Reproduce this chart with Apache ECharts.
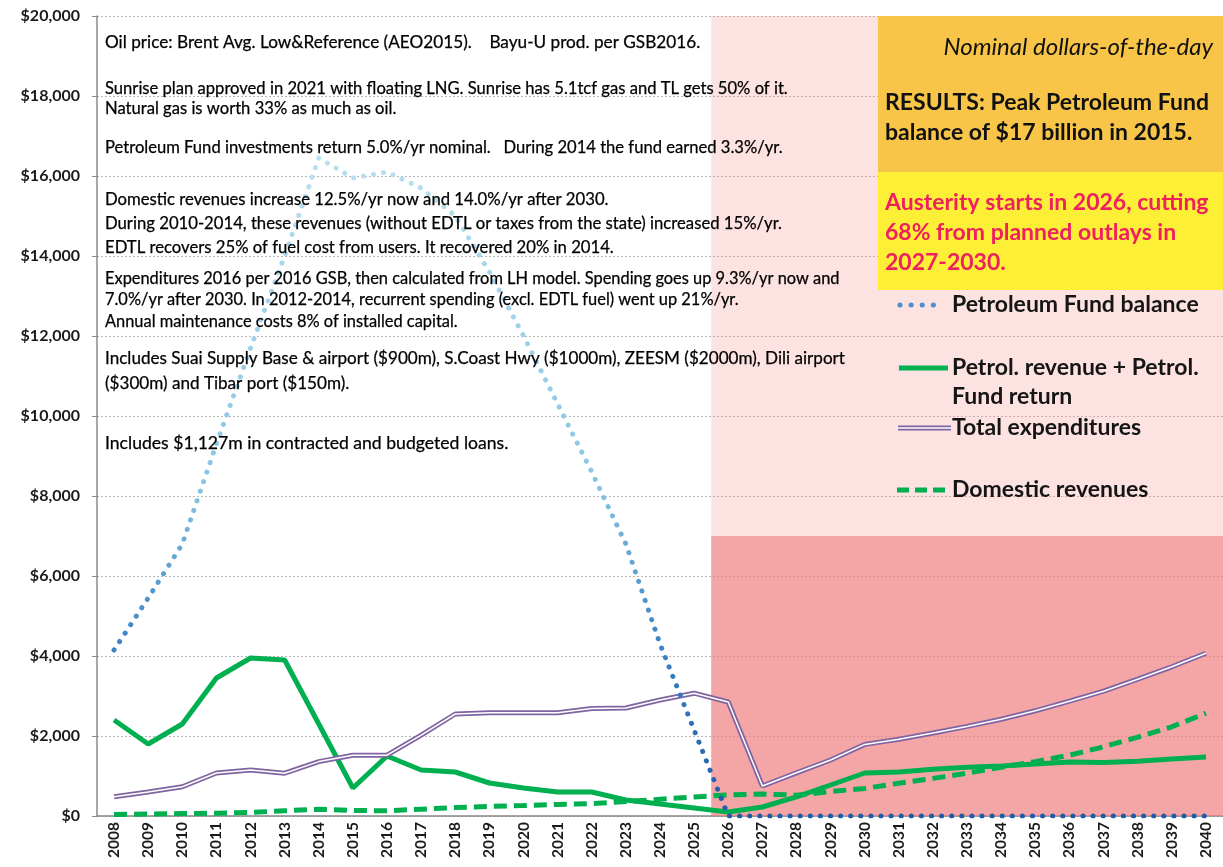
<!DOCTYPE html>
<html>
<head>
<meta charset="utf-8">
<script src="https://cdn.jsdelivr.net/npm/echarts@6/dist/echarts.min.js"></script>
<style>
html, body { margin: 0; padding: 0; background: #fff; }
#chart { width: 1223px; height: 867px; }
</style>
</head>
<body>
<div id="chart"></div>
<script>
var years = ['2008','2009','2010','2011','2012','2013','2014','2015','2016','2017','2018',
	'2019','2020','2021','2022','2023','2024','2025','2026','2027','2028','2029','2030',
	'2031','2032','2033','2034','2035','2036','2037','2038','2039','2040'];

// $ millions, nominal
var fundBalance = [4150, 5450, 6800, 9300, 11700, 14000, 16450, 15950, 16100, 15700, 15000,
	13600, 12000, 10300, 8600, 6800, 4300, 2150, 0, 0, 0, 0, 0, 0, 0, 0, 0, 0, 0, 0, 0, 0, 0];
var petrolRevenue = [2400, 1800, 2300, 3450, 3950, 3900, 2300, 700, 1500, 1150, 1100,
	825, 700, 600, 600, 400, 300, 200, 100, 225, 480, 775, 1075, 1100, 1170, 1220, 1250,
	1300, 1350, 1340, 1370, 1425, 1475];
var expenditures = [480, 600, 730, 1075, 1150, 1070, 1360, 1520, 1520, 2020, 2550,
	2580, 2580, 2580, 2690, 2700, 2900, 3070, 2850, 750, 1080, 1400, 1790, 1920, 2075, 2240,
	2420, 2630, 2870, 3120, 3420, 3730, 4070];
var domestic = [40, 50, 60, 70, 90, 130, 170, 140, 130, 170, 210,
	240, 260, 290, 310, 360, 420, 475, 525, 550, 520, 610, 690, 820, 940, 1070,
	1220, 1360, 1520, 1730, 1970, 2230, 2570];

// austerity period, shaded
var austerityStart = 2025.5, austerityEnd = 2040.5, austerityLevel = 7000;

var notes = [
	'Oil price: Brent Avg. Low&Reference (AEO2015).    Bayu-U prod. per GSB2016.',
	'Sunrise plan approved in 2021 with floating LNG. Sunrise has 5.1tcf gas and TL gets 50% of it.',
	'Natural gas is worth 33% as much as oil.',
	'Petroleum Fund investments return 5.0%/yr nominal.   During 2014 the fund earned 3.3%/yr.',
	'Domestic revenues increase 12.5%/yr now and 14.0%/yr after 2030.',
	'During 2010-2014, these revenues (without EDTL or taxes from the state) increased 15%/yr.',
	'EDTL recovers 25% of fuel cost from users. It recovered 20% in 2014.',
	'Expenditures 2016 per 2016 GSB, then calculated from LH model. Spending goes up 9.3%/yr now and',
	'7.0%/yr after 2030. In 2012-2014, recurrent spending (excl. EDTL fuel) went up 21%/yr.',
	'Annual maintenance costs 8% of installed capital.',
	'Includes Suai Supply Base & airport ($900m), S.Coast Hwy ($1000m), ZEESM ($2000m), Dili airport',
	'($300m) and Tibar port ($150m).',
	'Includes $1,127m in contracted and budgeted loans.'
];
var results = ['RESULTS: Peak Petroleum Fund', 'balance of $17 billion in 2015.'];
var austerity = ['Austerity starts in 2026, cutting', '68% from planned outlays in', '2027-2030.'];

var FONT = 'Lato, "Open Sans", sans-serif';
var chart = echarts.init(document.getElementById('chart'));

// y centre and font size of each note line
var noteLayout = [[42, 17.2], [89, 16.6], [109, 16.6], [148, 16.6], [200, 16.7], [224, 16.7],
	[248, 16.7], [279, 16.4], [300, 16.4], [322, 16.4], [358, 17.1], [383, 17.1], [443, 17.6]];

var graphics = [];
notes.forEach(function(t, i) {
	graphics.push({
		type: 'text', x: 105, y: noteLayout[i][0], z: 50,
		style: { text: t, fill: '#000', stroke: '#000', lineWidth: 0.25,
			font: noteLayout[i][1] + 'px ' + FONT, verticalAlign: 'middle' }
	});
});

// results box
graphics.push(
	{ type: 'rect', z: 40, shape: { x: 878, y: 16, width: 345, height: 156 }, style: { fill: '#f8c548' } },
	{ type: 'rect', z: 40, shape: { x: 878, y: 172, width: 345, height: 118 }, style: { fill: '#fdef36' } },
	{ type: 'text', z: 50, x: 1213, y: 47, style: { text: 'Nominal dollars-of-the-day', fill: '#111',
		font: 'italic 24px ' + FONT, align: 'right', verticalAlign: 'middle' } }
);
results.forEach(function(t, i) {
	graphics.push({ type: 'text', z: 50, x: 885, y: 103 + i * 30, style: { text: t, fill: '#111',
		font: 'bold 23px ' + FONT, verticalAlign: 'middle' } });
});
austerity.forEach(function(t, i) {
	graphics.push({ type: 'text', z: 50, x: 885, y: 203 + i * 30, style: { text: t, fill: '#ee2060',
		font: 'bold 23px ' + FONT, verticalAlign: 'middle' } });
});

// legend
var legendFont = 'bold 23px ' + FONT;
function legendText(t, y) {
	return { type: 'text', z: 50, x: 952, y: y, style: { text: t, fill: '#151515', font: legendFont, verticalAlign: 'middle' } };
}
graphics.push(
	{ type: 'line', z: 50, shape: { x1: 900, y1: 305, x2: 944, y2: 305 },
		style: { stroke: '#4a8fd0', lineWidth: 5, lineDash: [0.1, 11], lineCap: 'round' } },
	legendText('Petroleum Fund balance', 305),
	{ type: 'line', z: 50, shape: { x1: 899, y1: 368, x2: 948, y2: 368 }, style: { stroke: '#00b050', lineWidth: 5 } },
	legendText('Petrol. revenue + Petrol.', 368),
	legendText('Fund return', 397),
	{ type: 'line', z: 50, shape: { x1: 898, y1: 428, x2: 951, y2: 428 }, style: { stroke: '#8064a2', lineWidth: 5 } },
	{ type: 'line', z: 51, shape: { x1: 898, y1: 428, x2: 951, y2: 428 }, style: { stroke: '#ffffff', lineWidth: 1.5 } },
	legendText('Total expenditures', 428),
	{ type: 'line', z: 50, shape: { x1: 897, y1: 490, x2: 950, y2: 490 },
		style: { stroke: '#00b050', lineWidth: 5, lineDash: [12, 6] } },
	legendText('Domestic revenues', 490)
);

var fundColor = new echarts.graphic.LinearGradient(0, 0, 0, 1, [
	{ offset: 0, color: '#b9e0f0' },
	{ offset: 0.5, color: '#86c5e3' },
	{ offset: 0.72, color: '#3f86c8' },
	{ offset: 1, color: '#1f5aa8' }
]);

chart.setOption({
	backgroundColor: '#ffffff',
	animation: false,
	grid: { left: 97, right: -1, top: 16, bottom: 51 },
	xAxis: [{
		type: 'category',
		data: years,
		boundaryGap: true,
		axisLine: { lineStyle: { color: '#888', width: 1.5 } },
		axisTick: { length: 6, lineStyle: { color: '#888' } },
		axisLabel: { rotate: 90, interval: 0, margin: 6, color: '#1a1a1a',
			fontFamily: FONT, fontWeight: 'bold', fontSize: 15.5 }
	}, {
		type: 'value', show: false, min: 2007.5, max: 2040.5
	}],
	yAxis: {
		type: 'value',
		min: 0, max: 20000, interval: 2000,
		axisLine: { show: true, lineStyle: { color: '#888', width: 1.5 } },
		axisTick: { show: true, length: 5, lineStyle: { color: '#888' } },
		axisLabel: { margin: 17, color: '#1a1a1a', fontFamily: FONT, fontWeight: 'bold', fontSize: 16,
			formatter: function(v) { return '$' + String(v).replace(/\B(?=(\d{3})+(?!\d))/g, ','); } },
		splitLine: { lineStyle: { color: '#b5b5b5', type: [2, 2] } }
	},
	series: [{
		name: 'shade',
		type: 'line',
		xAxisIndex: 1,
		data: [],
		silent: true,
		z: 1,
		markArea: {
			silent: true,
			data: [
				[{ xAxis: austerityStart, yAxis: austerityLevel, itemStyle: { color: 'rgba(240,128,128,0.7)' } },
				 { xAxis: austerityEnd, yAxis: 0 }],
				[{ xAxis: austerityStart, yAxis: 20000, itemStyle: { color: 'rgba(248,160,160,0.3)' } },
				 { xAxis: austerityEnd, yAxis: austerityLevel }]
			]
		}
	}, {
		name: 'Domestic revenues',
		type: 'line',
		data: domestic,
		showSymbol: false,
		z: 3,
		lineStyle: { color: '#00b050', width: 5, type: [13, 7] }
	}, {
		name: 'Petrol. revenue + Petrol. Fund return',
		type: 'line',
		data: petrolRevenue,
		showSymbol: false,
		z: 4,
		lineStyle: { color: '#00b050', width: 5 }
	}, {
		name: 'Total expenditures',
		type: 'line',
		data: expenditures,
		showSymbol: false,
		z: 5,
		lineStyle: { color: '#8064a2', width: 5 }
	}, {
		name: 'Total expenditures inner',
		type: 'line',
		data: expenditures,
		showSymbol: false,
		z: 6,
		lineStyle: { color: '#ffffff', width: 1.5 }
	}, {
		name: 'Petroleum Fund balance',
		type: 'line',
		data: fundBalance,
		showSymbol: false,
		z: 7,
		lineStyle: { color: fundColor, width: 5, type: [0.1, 10], cap: 'round' }
	}],
	graphic: graphics
});
window.onresize = chart.resize;
</script>
</body>
</html>
